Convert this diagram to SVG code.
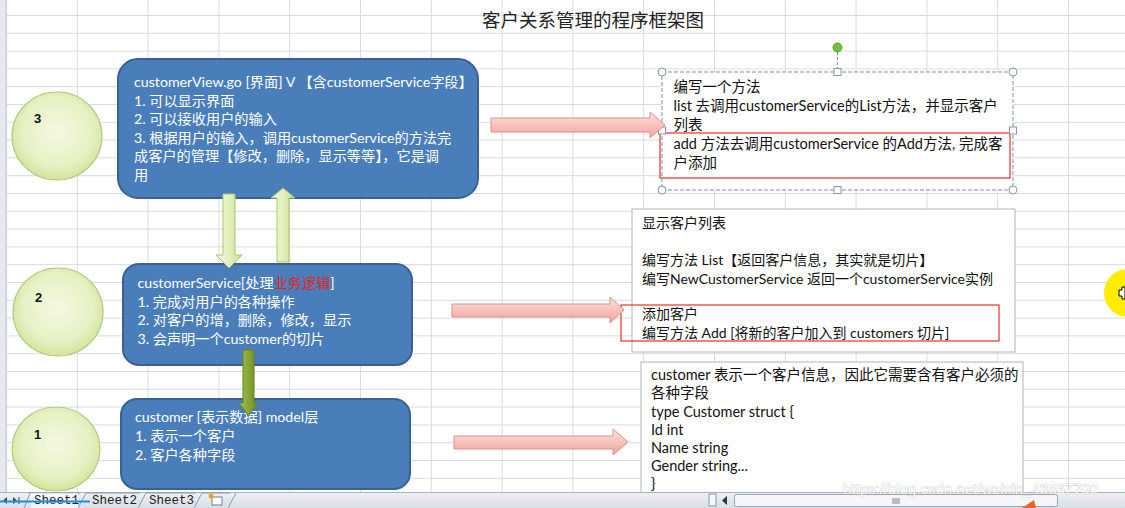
<svg xmlns="http://www.w3.org/2000/svg" width="1125" height="508" viewBox="0 0 1125 508">
<defs>
<pattern id="grid" x="6" y="15" width="70.8" height="17.8" patternUnits="userSpaceOnUse">
<path d="M0 0.5 H70.8 M0.5 0 V17.8" stroke="#d8dadd" stroke-width="1" fill="none"/>
</pattern>
<radialGradient id="gCircle" cx="50%" cy="45%" r="55%">
<stop offset="0" stop-color="#f4f9e2"/>
<stop offset="0.7" stop-color="#e6f1c4"/>
<stop offset="1" stop-color="#d3e59b"/>
</radialGradient>
<linearGradient id="gPink" x1="0" y1="0" x2="0" y2="1">
<stop offset="0" stop-color="#fde3e0"/>
<stop offset="0.5" stop-color="#f8c3be"/>
<stop offset="1" stop-color="#f0a29b"/>
</linearGradient>
<linearGradient id="gLight" x1="0" y1="0" x2="1" y2="0">
<stop offset="0" stop-color="#f2f9de"/>
<stop offset="0.5" stop-color="#e2f0bd"/>
<stop offset="1" stop-color="#c6df8c"/>
</linearGradient>
<linearGradient id="gOlive" x1="0" y1="0" x2="1" y2="0">
<stop offset="0" stop-color="#a9c455"/>
<stop offset="0.45" stop-color="#8aa83a"/>
<stop offset="1" stop-color="#6b8a22"/>
</linearGradient>
<linearGradient id="gBar" x1="0" y1="0" x2="0" y2="1">
<stop offset="0" stop-color="#eef1f5"/>
<stop offset="1" stop-color="#d9dfe7"/>
</linearGradient>
</defs>
<style>
.circle{fill:url(#gCircle);stroke:#b4c982;stroke-width:1.2}
.num{font-family:"Liberation Sans","Noto Sans CJK SC",sans-serif;font-size:13px;font-weight:bold;fill:#111}
.box{fill:#4a7ebb;stroke:#3a6192;stroke-width:2}
.wt{font-family:Lato,"Noto Sans CJK SC",sans-serif;font-size:14.2px;fill:#ffffff}
.bt{font-family:Lato,"Noto Sans CJK SC",sans-serif;font-size:14.5px;fill:#111111}
.bt2{font-family:Lato,"Noto Sans CJK SC",sans-serif;font-size:14px;fill:#111111}
.red{fill:#e8241f}
.tb{fill:#ffffff;stroke:#b4b4b4;stroke-width:1}
.redbox{fill:none;stroke:#e8302a;stroke-width:1.2}
.pink{fill:url(#gPink);stroke:#d8928b;stroke-width:1}
.light{fill:url(#gLight);stroke:#a9c56e;stroke-width:1}
.olive{fill:url(#gOlive);stroke:#62801c;stroke-width:1}
.hc{fill:#ffffff;stroke:#8797ab;stroke-width:1}
.tab{font-family:"Liberation Mono",monospace;font-size:12.5px;fill:#222}
</style>

<!-- sheet background -->
<rect x="0" y="0" width="1125" height="508" fill="#ffffff"/>
<rect x="6" y="0" width="1119" height="492" fill="url(#grid)"/>
<rect x="0" y="0" width="6" height="492" fill="#e6e9ee"/>
<line x1="6" y1="0" x2="6" y2="492" stroke="#c3c8cf"/>

<text x="593" y="27" text-anchor="middle" font-family="'Noto Sans CJK SC',sans-serif" font-size="18.5" fill="#222">客户关系管理的程序框架图</text>

<!-- circles -->
<g id="circle3"><ellipse class="circle" cx="57" cy="136" rx="45" ry="44"/><text class="num" x="34" y="123">3</text></g>
<g id="circle2"><ellipse class="circle" cx="58" cy="312" rx="45" ry="44"/><text class="num" x="35" y="302">2</text></g>
<g id="circle1"><ellipse class="circle" cx="56" cy="449" rx="44" ry="42"/><text class="num" x="34" y="439">1</text></g>

<!-- blue boxes -->
<g id="view">
<rect class="box" x="118" y="59" width="360" height="139" rx="20"/>
<text class="wt" x="134" y="87">customerView.go [界面] V 【含customerService字段】</text>
<text class="wt" x="134" y="105.6">1. 可以显示界面</text>
<text class="wt" x="134" y="124.2">2. 可以接收用户的输入</text>
<text class="wt" x="134" y="142.8">3. 根据用户的输入，调用customerService的方法完</text>
<text class="wt" x="134" y="161.4">成客户的管理【修改，删除，显示等等】，它是调</text>
<text class="wt" x="134" y="180">用</text>
</g>
<g id="service">
<rect class="box" x="123" y="264" width="289" height="101" rx="16"/>
<text class="wt" x="137.5" y="288">customerService[处理<tspan class="red">业务逻辑</tspan>]</text>
<text class="wt" x="137.5" y="307">1. 完成对用户的各种操作</text>
<text class="wt" x="137.5" y="325">2. 对客户的增，删除，修改，显示</text>
<text class="wt" x="137.5" y="343.5">3. 会声明一个customer的切片</text>
</g>
<g id="model">
<rect class="box" x="121" y="399" width="289" height="90" rx="16"/>
<text class="wt" x="135" y="422">customer [表示数据] model层</text>
<text class="wt" x="135" y="441">1. 表示一个客户</text>
<text class="wt" x="135" y="459.5">2. 客户各种字段</text>
</g>

<!-- right text boxes -->
<g id="note-view">
<rect x="662" y="72" width="351" height="118" fill="#ffffff"/>
<text class="bt" x="673.5" y="92">编写一个方法</text>
<text class="bt" x="673.5" y="111">list 去调用customerService的List方法，并显示客户</text>
<text class="bt" x="673.5" y="129.5">列表</text>
<text class="bt" x="673.5" y="149">add 方法去调用customerService 的Add方法, 完成客</text>
<text class="bt" x="673.5" y="167.5">户添加</text>
<rect class="redbox" x="660" y="133" width="350" height="45"/>
<rect x="662" y="72" width="351" height="118" fill="none" stroke="#7f93ab" stroke-width="1" stroke-dasharray="4 2"/>
<line x1="837.5" y1="52" x2="837.5" y2="68" stroke="#7f93ab" stroke-dasharray="3 2"/>
<circle cx="837.5" cy="47.5" r="4.5" fill="#77bf3f" stroke="#5a9a2c"/>
<circle class="hc" cx="662" cy="72" r="4"/>
<circle class="hc" cx="1013" cy="72" r="4"/>
<circle class="hc" cx="662" cy="190" r="4"/>
<circle class="hc" cx="1013" cy="190" r="4"/>
<rect class="hc" x="834" y="68.5" width="7" height="7"/>
<rect class="hc" x="834" y="186.5" width="7" height="7"/>
<rect class="hc" x="658.5" y="127" width="7" height="7"/>
<rect class="hc" x="1009.5" y="127" width="7" height="7"/>
</g>
<g id="note-service">
<rect class="tb" x="632" y="209" width="383" height="143"/>
<text class="bt2" x="642" y="228">显示客户列表</text>
<text class="bt2" x="642" y="265">编写方法 List【返回客户信息，其实就是切片】</text>
<text class="bt2" x="642" y="283.5">编写NewCustomerService 返回一个customerService实例</text>
<text class="bt2" x="642" y="318.5">添加客户</text>
<text class="bt2" x="642" y="337.5">编写方法 Add [将新的客户加入到 customers 切片]</text>
<rect class="redbox" x="621" y="305" width="378" height="36"/>
</g>
<g id="note-model">
<rect class="tb" x="641" y="362" width="382" height="140"/>
<text class="bt" x="651" y="380" font-size="15">customer 表示一个客户信息，因此它需要含有客户必须的</text>
<text class="bt" x="651" y="398" font-size="15">各种字段</text>
<text class="bt" x="651" y="417" font-size="15">type  Customer struct {</text>
<text class="bt" x="651" y="435" font-size="15">Id int</text>
<text class="bt" x="651" y="453" font-size="15">Name string</text>
<text class="bt" x="651" y="471" font-size="15">Gender string...</text>
<text class="bt" x="651" y="489" font-size="15">}</text>
</g>

<!-- connectors -->
<g id="connectors">
<path class="pink" d="M491,118 H650 V112 L665,125 L650,138 V132 H491 Z"/>
<path class="pink" d="M452,304 H610 V297 L624,310 L610,323 V317 H452 Z"/>
<path class="pink" d="M454,436 H613 V429 L628,442 L613,455 V449 H454 Z"/>
<path class="light" d="M223,194 H235 V255 H242 L229,268 L216,255 H223 Z"/>
<path class="light" d="M277,262 V198 H271 L283,188 L295,198 H289 V262 Z"/>
<path class="olive" d="M243,350 H254 V403 H258 L248.5,416 L239,403 H243 Z"/>
</g>

<!-- cursor highlight -->
<circle cx="1128" cy="293" r="24" fill="#ffec00"/>
<path d="M1119,290 h3 v-3 h3 v12 h-3 v-3 h-3 z" fill="#ffffff" stroke="#000" stroke-width="1"/>

<!-- sheet tab bar -->
<rect x="0" y="492" width="1125" height="16" fill="url(#gBar)"/>
<line x1="0" y1="492.5" x2="1125" y2="492.5" stroke="#a9b3bf"/>
<path d="M7,497 L3,500.5 L7,504 Z M13,497 L17,500.5 L13,504 Z" fill="#444"/>
<line x1="19" y1="497" x2="19" y2="504" stroke="#444"/>
<path d="M24,508 L30,493 H80 M78,508 L86,493 H140 M138,508 L146,493 H196 M194,508 L202,493 H230 M228,508 L236,493" fill="none" stroke="#8e99a6"/>
<rect x="31" y="493" width="47" height="15" fill="#ffffff" opacity="0.6"/>
<text class="tab" x="34" y="504">Sheet1</text>
<text class="tab" x="92" y="504">Sheet2</text>
<text class="tab" x="149" y="504">Sheet3</text>
<rect x="212" y="497" width="10" height="8" fill="#ffffff" stroke="#6d7c8f"/>
<circle cx="211" cy="496" r="2.5" fill="#f0a020"/>
<line x1="0" y1="501.5" x2="90" y2="501.5" stroke="#1d8fd6" stroke-width="2"/>
<rect x="709" y="494" width="7" height="12" fill="#f4f6f8" stroke="#8e99a6"/>
<path d="M727,496 L722,500.5 L727,505 Z" fill="#333"/>
<rect x="734.5" y="494.5" width="323" height="12" rx="2" fill="#f4f6f9" stroke="#9aa5b2"/>
<path d="M893,498 v6 M895,498 v6 M897,498 v6 M899,498 v6" stroke="#7b8694"/>
<path d="M1022,508 L1034,500 L1036,508 Z" fill="#e8672b"/>
<text x="843" y="494" font-family="'Liberation Sans',sans-serif" font-size="15" fill="#ffffff" stroke="#b9b9b9" stroke-width="0.7" paint-order="stroke" opacity="0.9">https://blog.csdn.net/weixin_43867700</text>
</svg>
